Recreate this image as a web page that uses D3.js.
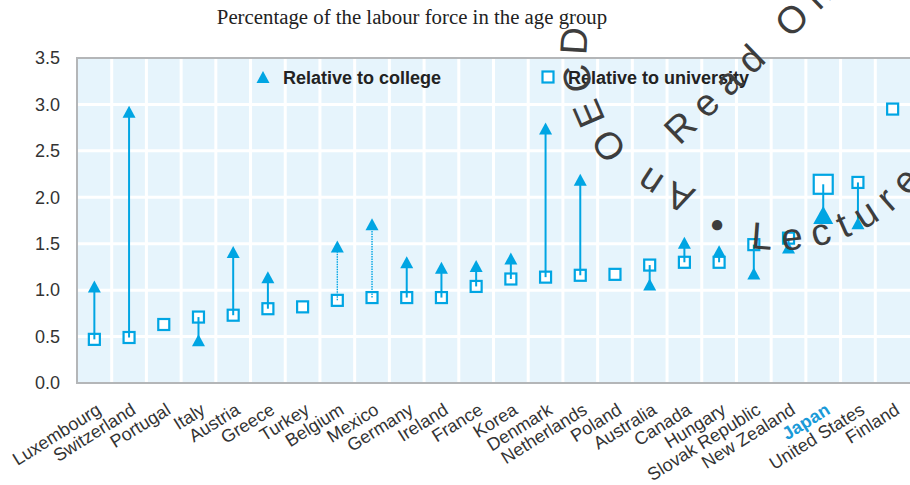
<!DOCTYPE html>
<html>
<head>
<meta charset="utf-8">
<script src="https://cdn.jsdelivr.net/npm/d3@7"></script>
<style>
  body { margin: 0; background: #fff; }
  svg { display: block; }
  .tick text { font-family: "Liberation Sans", Arial, sans-serif; fill: #333; }
</style>
</head>
<body>
<div id="chart"></div>
<script>
// data
const countries = ["Luxembourg", "Switzerland", "Portugal", "Italy", "Austria", "Greece", "Turkey",
  "Belgium", "Mexico", "Germany", "Ireland", "France", "Korea", "Denmark", "Netherlands", "Poland",
  "Australia", "Canada", "Hungary", "Slovak Republic", "New Zealand", "Japan", "United States", "Finland"];
const college = [1.04, 2.92, null, 0.46, 1.41, 1.14, null, 1.47, 1.71, 1.30, 1.24, 1.26, 1.34, 2.74,
  2.19, null, 1.06, 1.51, 1.42, 1.18, 1.46, 1.81, 1.72, null];
const university = [0.47, 0.49, 0.63, 0.71, 0.73, 0.80, 0.82, 0.89, 0.92, 0.92, 0.92, 1.04, 1.12, 1.14,
  1.16, 1.17, 1.27, 1.30, 1.30, 1.49, 1.56, 2.14, 2.16, 2.95];
const dottedLinks = ["Belgium", "Mexico"];
const highlight = "Japan";
const yTicks = [0, 0.5, 1, 1.5, 2, 2.5, 3, 3.5];
const seriesNames = ["Relative to college", "Relative to university"];

// layout
const width = 910, height = 485;
const plot = { left: 77, right: 910, top: 58, bottom: 383 };
const blue = "#00a5e3";

const svg = d3.select("#chart").append("svg")
  .attr("width", width)
  .attr("height", height);

const x = d3.scaleBand().domain(countries).range([plot.left, plot.right]);
const y = d3.scaleLinear().domain([0, 3.5]).range([plot.bottom, plot.top]);

// background
svg.append("rect")
  .attr("x", plot.left).attr("y", plot.top)
  .attr("width", plot.right - plot.left).attr("height", plot.bottom - plot.top)
  .attr("fill", "#e6f4fc");

// grid
svg.append("g").selectAll("line")
  .data(yTicks.slice(1, -1))
  .enter().append("line")
  .attr("x1", plot.left).attr("x2", plot.right)
  .attr("y1", d => y(d)).attr("y2", d => y(d))
  .attr("stroke", "#fff").attr("stroke-width", 3);

svg.append("g").selectAll("line")
  .data(countries.slice(1))
  .enter().append("line")
  .attr("x1", d => x(d)).attr("x2", d => x(d))
  .attr("y1", plot.top).attr("y2", plot.bottom)
  .attr("stroke", "#fff").attr("stroke-width", 3);

// frame
svg.append("path")
  .attr("d", `M${plot.right},${plot.top}H${plot.left}V${plot.bottom}H${plot.right}`)
  .attr("fill", "none").attr("stroke", "#b4b6b8").attr("stroke-width", 2);

// y axis
svg.append("g")
  .attr("transform", `translate(${plot.left},0)`)
  .call(d3.axisLeft(y).tickValues(yTicks).tickFormat(d3.format(".1f")).tickSize(0).tickPadding(17))
  .call(g => g.select(".domain").remove())
  .selectAll("text")
  .style("font-size", "18px");

// x axis
svg.append("g")
  .attr("transform", `translate(0,${plot.bottom})`)
  .call(d3.axisBottom(x).tickSize(0))
  .call(g => g.select(".domain").remove())
  .selectAll("text")
  .attr("y", 0).attr("dy", 0)
  .attr("text-anchor", "end")
  .attr("transform", "translate(8,30) rotate(-32)")
  .style("font-size", "18px")
  .style("fill", d => d === highlight ? "#1a9ad8" : "#333")
  .style("font-weight", d => d === highlight ? "bold" : "normal");

// rows
const rows = countries.map((c, i) => ({ country: c, college: college[i], university: university[i] }));
const cx = d => x(d.country) + x.bandwidth() / 2;

// squares (university)
svg.append("g").selectAll("rect")
  .data(rows)
  .enter().append("rect")
  .attr("x", d => cx(d) - (d.country === highlight ? 9.5 : 5.5))
  .attr("y", d => y(d.university) - (d.country === highlight ? 9.5 : 5.5))
  .attr("width", d => d.country === highlight ? 19 : 11)
  .attr("height", d => d.country === highlight ? 19 : 11)
  .attr("fill", "#fff")
  .attr("stroke", blue)
  .attr("stroke-width", 2.2);

// links
svg.append("g").selectAll("line")
  .data(rows.filter(d => d.college != null))
  .enter().append("line")
  .attr("x1", cx).attr("x2", cx)
  .attr("y1", d => y(d.university))
  .attr("y2", d => y(d.college))
  .attr("stroke", blue)
  .attr("stroke-width", d => dottedLinks.includes(d.country) ? 1.4 : 2)
  .attr("stroke-dasharray", d => dottedLinks.includes(d.country) ? "1.5,1" : null);

// triangles (college)
function tri(w, h) {
  return `M0,${-h / 2}L${w / 2},${h / 2}L${-w / 2},${h / 2}Z`;
}
svg.append("g").selectAll("path")
  .data(rows.filter(d => d.college != null))
  .enter().append("path")
  .attr("d", d => d.country === highlight ? tri(20, 18) : tri(13, 12))
  .attr("transform", d => `translate(${cx(d)},${y(d.college)})`)
  .attr("fill", blue);

// legend
const legend = svg.append("g")
  .style("font-family", "'Liberation Sans', Arial, sans-serif")
  .style("font-size", "18px")
  .style("font-weight", "bold")
  .style("fill", "#222");
legend.append("path").attr("d", tri(13, 12)).attr("transform", "translate(263,77)").attr("fill", blue);
legend.append("text").attr("x", 283).attr("y", 84).text(seriesNames[0]);
legend.append("rect").attr("x", 542.5).attr("y", 71.5).attr("width", 11).attr("height", 11)
  .attr("fill", "#fff").attr("stroke", blue).attr("stroke-width", 2.2);
legend.append("text").attr("x", 568).attr("y", 84).text(seriesNames[1]);

// title
svg.append("text")
  .attr("x", 412).attr("y", 24)
  .attr("text-anchor", "middle")
  .style("font-family", "'Liberation Serif', 'Times New Roman', serif")
  .style("font-size", "20.8px")
  .style("fill", "#222")
  .text("Percentage of the labour force in the age group");

// watermark stamp
function arcPath(c, r, a0, a1, sweep) {
  const p = a => [c[0] + r * Math.cos(a * Math.PI / 180), c[1] + r * Math.sin(a * Math.PI / 180)];
  const s = p(a0), e = p(a1);
  const large = Math.abs(a1 - a0) > 180 ? 1 : 0;
  return `M${s[0]},${s[1]}A${r},${r} 0 ${large} ${sweep} ${e[0]},${e[1]}`;
}
const defs = svg.append("defs");
defs.append("path").attr("id", "wm1").attr("d", arcPath([735, 46], 148, 105, 260, 1));
defs.append("path").attr("id", "wm2").attr("d", arcPath([780, 70], 180, 114, -60, 0));
defs.append("path").attr("id", "wm3").attr("d", "M679.6,146.3L967,-132");

const wm = svg.append("g")
  .style("font-family", "'Liberation Sans', Arial, sans-serif")
  .style("font-size", "38px")
  .style("fill", "#3d3d3d");
[["wm1", "An OECD", 7.5], ["wm2", "• Lecture seule", 11], ["wm3", "Read Only", 10.5]].forEach(([id, t, ls]) => {
  wm.append("text").style("letter-spacing", ls + "px")
    .append("textPath").attr("href", "#" + id).text(t);
});
</script>
</body>
</html>
